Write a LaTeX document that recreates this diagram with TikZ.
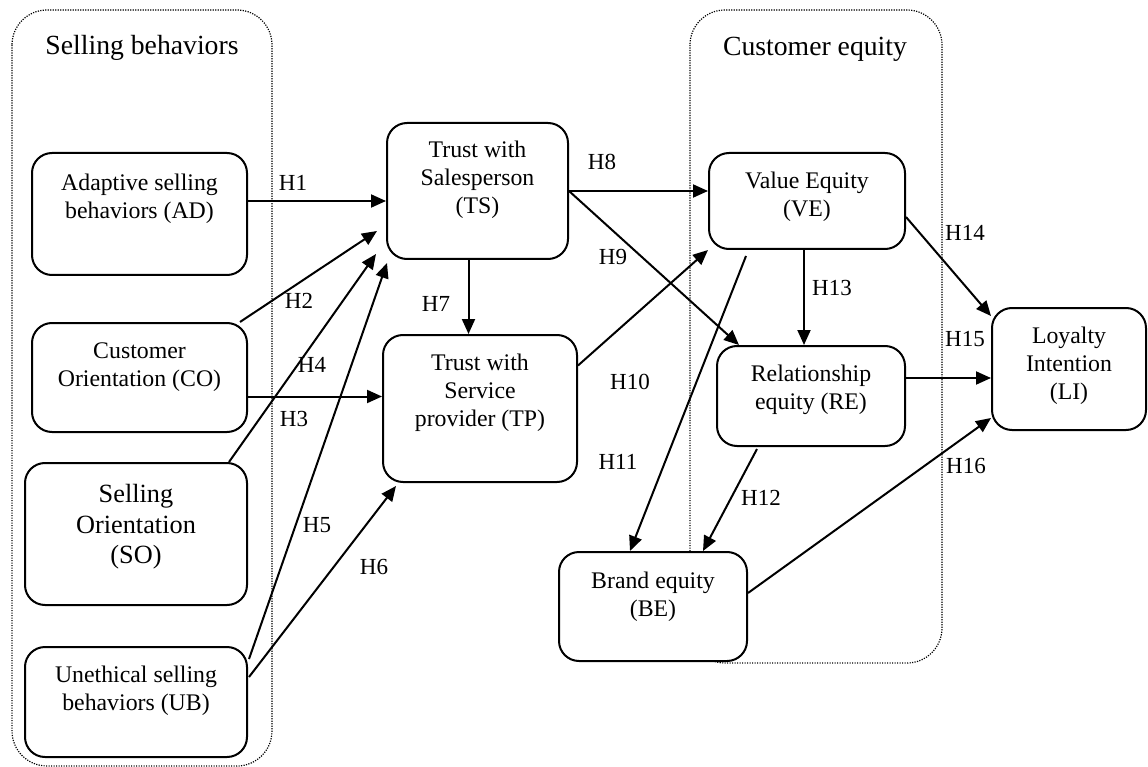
\documentclass[tikz,border=0pt]{standalone}
\usepackage{fontspec}
\setmainfont{Liberation Serif}
\usepackage{tikz}
\usetikzlibrary{arrows.meta}

\newcommand{\boxfont}{\fontsize{23.8}{28}\selectfont}
\newcommand{\bigboxfont}{\fontsize{26.3}{30.5}\selectfont}
\newcommand{\titlefont}{\fontsize{27.7}{32}\selectfont}
\newcommand{\hypfont}{\fontsize{23}{26}\selectfont}

\tikzset{
  construct/.style={draw, line width=2pt, rounded corners=20pt, fill=white, inner sep=0pt},
  txt/.style={align=center, font=\boxfont, inner sep=0pt},
  groupbox/.style={line width=1.2pt, dash pattern=on 1.2pt off 1.3pt, rounded corners=35pt},
  grouptitle/.style={font=\titlefont, inner sep=0pt},
  hyp/.style={-{Triangle[length=15pt,width=13pt]}, line width=2pt},
  hlabel/.style={font=\hypfont, inner sep=0pt}
}

\begin{document}
\begin{tikzpicture}[x=1pt, y=-1pt]
    \useasboundingbox (0,0) rectangle (1148,767);

    % Dotted groups
    \draw[groupbox] (12,10) rectangle (272,766);
    \draw[groupbox] (690,10) rectangle (942,663);
    \node[grouptitle] (sbt) at (142,48) {Selling behaviors};
    \node[grouptitle] (cet) at (815,49) {Customer equity};

    % Selling behaviors (left)
    \node[construct, minimum width=215, minimum height=122] (ad) at (139.5,214) {};
    \node[txt] (adt) at ([yshift=15pt]ad.center) {Adaptive selling\\behaviors (AD)};
    \node[construct, minimum width=215, minimum height=109] (co) at (139.5,377.5) {};
    \node[txt] (cot) at ([yshift=10pt]co.center) {Customer\\Orientation (CO)};
    \node[construct, minimum width=222, minimum height=142] (so) at (136,534) {};
    \node[txt, font=\bigboxfont] (sot) at ([yshift=7pt]so.center) {Selling\\Orientation\\(SO)};
    \node[construct, minimum width=222, minimum height=110] (ub) at (136,702) {};
    \node[txt] (ubt) at ([yshift=11pt]ub.center) {Unethical selling\\behaviors (UB)};

    % Trust
    \node[construct, minimum width=181, minimum height=136] (ts) at (477.5,191) {};
    \node[txt] (tst) at ([yshift=11pt]ts.center) {Trust with\\Salesperson\\(TS)};
    \node[construct, minimum width=194, minimum height=147] (tp) at (480,408.5) {};
    \node[txt] (tpt) at ([yshift=16pt]tp.center) {Trust with\\Service\\provider (TP)};

    % Customer equity
    \node[construct, minimum width=196, minimum height=96] (ve) at (807,201) {};
    \node[txt] (vet) at ([yshift=4pt]ve.center) {Value Equity\\(VE)};
    \node[construct, minimum width=188, minimum height=100] (re) at (811,396) {};
    \node[txt] (ret) at ([yshift=6pt]re.center) {Relationship\\equity (RE)};
    \node[construct, minimum width=188, minimum height=109] (be) at (653,606.5) {};
    \node[txt] (bet) at ([yshift=10pt]be.center) {Brand equity\\(BE)};

    % Outcome
    \node[construct, minimum width=154, minimum height=122] (li) at (1069,369) {};
    \node[txt] (lit) at ([yshift=3pt]li.center) {Loyalty\\Intention\\(LI)};

    % Hypotheses
    \draw[hyp] ([yshift=13pt]ad.east) -- ([yshift=13pt]ad.east -| ts.west);
    \draw[hyp] ([xshift=-8pt]co.north east) -- ([xshift=-9pt,yshift=29pt]ts.south west);
    \draw[hyp] ([yshift=-19pt]co.east) -- ([yshift=-19pt]co.east -| tp.west);
    \draw[hyp] ([xshift=-19pt]so.north east) -- ([xshift=-10pt,yshift=6pt]ts.south west);
    \draw[hyp] ([xshift=1pt,yshift=-13pt]ub.north east) -- ([xshift=1pt,yshift=-3pt]ts.south west);
    \draw[hyp] ([xshift=1pt,yshift=25pt]ub.east) -- ([xshift=14pt,yshift=-3pt]tp.south west);
    \draw[hyp] ([xshift=-9pt]ts.south) -- ([xshift=-9pt]ts.south |- tp.north);
    \draw[hyp] (ts.east) -- (ts.east -| ve.west);
    \draw[hyp] (ts.east) -- ([xshift=23pt]re.north west);
    \draw[hyp] ([yshift=43pt]tp.east) -- (ve.south west);
    \draw[hyp] ([xshift=38pt,yshift=-6pt]ve.south west) -- ([xshift=-23pt]be.north);
    \draw[hyp] ([xshift=41pt,yshift=-2pt]re.south west) -- ([xshift=50pt]be.north);
    \draw[hyp] ([xshift=-3pt]ve.south) -- ([xshift=-3pt]ve.south |- re.north);
    \draw[hyp] ([yshift=-16pt]ve.east) -- ([yshift=-9pt]li.north west);
    \draw[hyp] ([yshift=18pt]re.east) -- ([yshift=18pt]re.east -| li.west);
    \draw[hyp] ([yshift=13.5pt]be.east) -- ([yshift=13pt]li.south west);

    % Hypothesis labels
    \node[hlabel] (h1) at (293,183) {H1};
    \node[hlabel] (h2) at (299,301) {H2};
    \node[hlabel] (h3) at (294,419) {H3};
    \node[hlabel] (h4) at (312,365) {H4};
    \node[hlabel] (h5) at (317,525) {H5};
    \node[hlabel] (h6) at (374,567) {H6};
    \node[hlabel] (h7) at (436,304) {H7};
    \node[hlabel] (h8) at (602,162) {H8};
    \node[hlabel] (h9) at (613,257) {H9};
    \node[hlabel] (h10) at (630,382) {H10};
    \node[hlabel] (h11) at (618,462) {H11};
    \node[hlabel] (h12) at (761,498) {H12};
    \node[hlabel] (h13) at (832,288) {H13};
    \node[hlabel] (h14) at (965,233) {H14};
    \node[hlabel] (h15) at (965,339) {H15};
    \node[hlabel] (h16) at (966,466) {H16};
\end{tikzpicture}
\end{document}
